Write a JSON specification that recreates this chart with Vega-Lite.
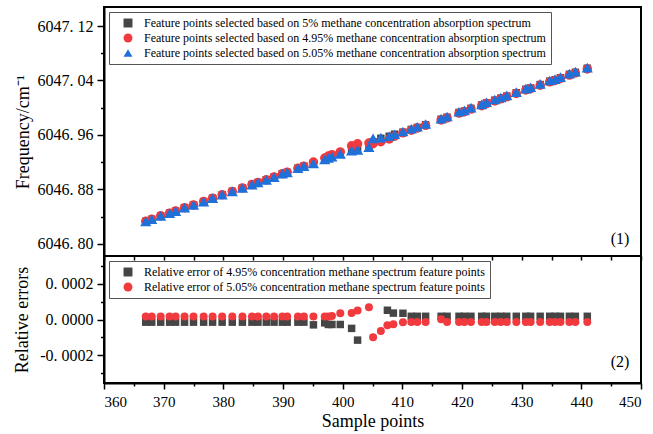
{
  "$schema": "https://vega.github.io/schema/vega-lite/v6.json",
  "background": "white",
  "padding": {"left": 12, "top": 6, "right": 12, "bottom": 0},
  "config": {
    "font": "Liberation Serif",
    "view": {"stroke": "black", "strokeWidth": 2},
    "axis": {"domainColor": "black", "domainWidth": 2, "tickColor": "black", "tickWidth": 1.5, "labelColor": "black", "labelFont": "Liberation Serif", "titleFont": "Liberation Serif", "titleColor": "black", "titleFontWeight": "normal", "grid": false, "labelFontSize": 15, "titleFontSize": 18, "labelOverlap": false, "tickCount": 60},
    "legend": {"orient": "top-left", "offset": 5, "strokeColor": "#555555", "strokeWidth": 1, "padding": 5, "labelFont": "Liberation Serif", "labelFontSize": 12, "labelColor": "black", "labelLimit": 600, "symbolSize": 80, "symbolOffset": 8, "labelOffset": 10, "rowPadding": 3, "symbolStrokeWidth": 0, "fillColor": "white", "title": null},
    "concat": {"spacing": 0}
  },
  "datasets": {
    "top": [
      {"x": 367, "f5": 6046.833, "f495": 6046.833, "f505": 6046.833},
      {"x": 368, "f5": 6046.836, "f495": 6046.836, "f505": 6046.836},
      {"x": 369.5, "f5": 6046.841, "f495": 6046.841, "f505": 6046.841},
      {"x": 371, "f5": 6046.845, "f495": 6046.845, "f505": 6046.845},
      {"x": 372, "f5": 6046.848, "f495": 6046.848, "f505": 6046.848},
      {"x": 373.5, "f5": 6046.853, "f495": 6046.853, "f505": 6046.853},
      {"x": 375, "f5": 6046.857, "f495": 6046.857, "f505": 6046.857},
      {"x": 376.7, "f5": 6046.862, "f495": 6046.862, "f505": 6046.862},
      {"x": 378.2, "f5": 6046.867, "f495": 6046.867, "f505": 6046.867},
      {"x": 379.8, "f5": 6046.872, "f495": 6046.872, "f505": 6046.872},
      {"x": 381.5, "f5": 6046.877, "f495": 6046.877, "f505": 6046.877},
      {"x": 383.2, "f5": 6046.882, "f495": 6046.882, "f505": 6046.882},
      {"x": 384.8, "f5": 6046.887, "f495": 6046.887, "f505": 6046.887},
      {"x": 385.8, "f5": 6046.890, "f495": 6046.890, "f505": 6046.890},
      {"x": 387.2, "f5": 6046.894, "f495": 6046.894, "f505": 6046.894},
      {"x": 388.5, "f5": 6046.898, "f495": 6046.898, "f505": 6046.898},
      {"x": 389.9, "f5": 6046.903, "f495": 6046.903, "f505": 6046.903},
      {"x": 390.7, "f5": 6046.905, "f495": 6046.905, "f505": 6046.905},
      {"x": 392.5, "f5": 6046.911, "f495": 6046.911, "f505": 6046.911},
      {"x": 393.5, "f5": 6046.914, "f495": 6046.914, "f505": 6046.914},
      {"x": 395.1, "f5": 6046.918, "f495": 6046.920, "f505": 6046.918},
      {"x": 397, "f5": 6046.924, "f495": 6046.926, "f505": 6046.924},
      {"x": 397.6, "f5": 6046.926, "f495": 6046.929, "f505": 6046.926},
      {"x": 398.2, "f5": 6046.928, "f495": 6046.931, "f505": 6046.928},
      {"x": 399.6, "f5": 6046.932, "f495": 6046.935, "f505": 6046.932},
      {"x": 401.5, "f5": 6046.937, "f495": 6046.944, "f505": 6046.937},
      {"x": 402.5, "f5": 6046.938, "f495": 6046.947, "f505": 6046.938},
      {"x": 404.4, "f5": 6046.944, "f495": 6046.948, "f505": 6046.942},
      {"x": 405.1, "f5": 6046.950, "f495": 6046.947, "f505": 6046.955},
      {"x": 406.4, "f5": 6046.955, "f495": 6046.950, "f505": 6046.956},
      {"x": 407.8, "f5": 6046.958, "f495": 6046.954, "f505": 6046.958},
      {"x": 408.7, "f5": 6046.961, "f495": 6046.958, "f505": 6046.961},
      {"x": 410.1, "f5": 6046.964, "f495": 6046.963, "f505": 6046.965},
      {"x": 411.5, "f5": 6046.968, "f495": 6046.967, "f505": 6046.969},
      {"x": 412.5, "f5": 6046.971, "f495": 6046.970, "f505": 6046.972},
      {"x": 413.9, "f5": 6046.975, "f495": 6046.974, "f505": 6046.976},
      {"x": 416.5, "f5": 6046.983, "f495": 6046.982, "f505": 6046.984},
      {"x": 417.5, "f5": 6046.986, "f495": 6046.985, "f505": 6046.987},
      {"x": 419.5, "f5": 6046.993, "f495": 6046.992, "f505": 6046.994},
      {"x": 420.4, "f5": 6046.995, "f495": 6046.994, "f505": 6046.996},
      {"x": 421.5, "f5": 6046.999, "f495": 6046.998, "f505": 6047.000},
      {"x": 423.3, "f5": 6047.004, "f495": 6047.003, "f505": 6047.005},
      {"x": 424.1, "f5": 6047.007, "f495": 6047.006, "f505": 6047.008},
      {"x": 425.5, "f5": 6047.011, "f495": 6047.010, "f505": 6047.012},
      {"x": 426.5, "f5": 6047.014, "f495": 6047.013, "f505": 6047.015},
      {"x": 427.5, "f5": 6047.017, "f495": 6047.016, "f505": 6047.018},
      {"x": 429.1, "f5": 6047.022, "f495": 6047.021, "f505": 6047.023},
      {"x": 430.7, "f5": 6047.027, "f495": 6047.026, "f505": 6047.028},
      {"x": 431.5, "f5": 6047.029, "f495": 6047.028, "f505": 6047.030},
      {"x": 433.1, "f5": 6047.034, "f495": 6047.033, "f505": 6047.035},
      {"x": 434.7, "f5": 6047.039, "f495": 6047.038, "f505": 6047.040},
      {"x": 435.6, "f5": 6047.041, "f495": 6047.040, "f505": 6047.042},
      {"x": 436.5, "f5": 6047.044, "f495": 6047.043, "f505": 6047.045},
      {"x": 438, "f5": 6047.049, "f495": 6047.048, "f505": 6047.050},
      {"x": 439, "f5": 6047.052, "f495": 6047.051, "f505": 6047.053},
      {"x": 441, "f5": 6047.058, "f495": 6047.057, "f505": 6047.059}
    ],
    "bot": [
      {"x": 367, "e495": -0.000015, "e505": 0.000017},
      {"x": 368, "e495": -0.000015, "e505": 0.000017},
      {"x": 369.5, "e495": -0.000015, "e505": 0.000017},
      {"x": 371, "e495": -0.000015, "e505": 0.000017},
      {"x": 372, "e495": -0.000015, "e505": 0.000017},
      {"x": 373.5, "e495": -0.000015, "e505": 0.000017},
      {"x": 375, "e495": -0.000015, "e505": 0.000017},
      {"x": 376.7, "e495": -0.000015, "e505": 0.000017},
      {"x": 378.2, "e495": -0.000015, "e505": 0.000017},
      {"x": 379.8, "e495": -0.000015, "e505": 0.000017},
      {"x": 381.5, "e495": -0.000015, "e505": 0.000017},
      {"x": 383.2, "e495": -0.000015, "e505": 0.000017},
      {"x": 384.8, "e495": -0.000015, "e505": 0.000017},
      {"x": 385.8, "e495": -0.000015, "e505": 0.000017},
      {"x": 387.2, "e495": -0.000015, "e505": 0.000017},
      {"x": 388.5, "e495": -0.000015, "e505": 0.000017},
      {"x": 389.9, "e495": -0.000015, "e505": 0.000017},
      {"x": 390.7, "e495": -0.000015, "e505": 0.000017},
      {"x": 392.5, "e495": -0.000015, "e505": 0.000017},
      {"x": 393.5, "e495": -0.000015, "e505": 0.000017},
      {"x": 395.1, "e495": -0.000030, "e505": 0.000017},
      {"x": 397, "e495": -0.000019, "e505": 0.000017},
      {"x": 397.6, "e495": -0.000028, "e505": 0.000017},
      {"x": 398.2, "e495": -0.000028, "e505": 0.000019},
      {"x": 399.6, "e495": -0.000028, "e505": 0.000035},
      {"x": 401.5, "e495": -0.000050, "e505": 0.000037},
      {"x": 402.5, "e495": -0.000116, "e505": 0.000050},
      {"x": 404.4, "e495": null, "e505": 0.000069},
      {"x": 405.1, "e495": null, "e505": -0.000100},
      {"x": 406.4, "e495": null, "e505": -0.000065},
      {"x": 407.5, "e495": 0.000052, "e505": -0.000032},
      {"x": 408.5, "e495": 0.000036, "e505": -0.000027},
      {"x": 410.1, "e495": 0.000035, "e505": -0.000015},
      {"x": 411.5, "e495": 0.000018, "e505": -0.000014},
      {"x": 412.5, "e495": 0.000018, "e505": -0.000014},
      {"x": 413.9, "e495": 0.000018, "e505": -0.000014},
      {"x": 416.5, "e495": 0.000018, "e505": 0.000002},
      {"x": 417.5, "e495": 0.000018, "e505": -0.000014},
      {"x": 419.5, "e495": 0.000018, "e505": -0.000014},
      {"x": 420.4, "e495": 0.000018, "e505": -0.000014},
      {"x": 421.5, "e495": 0.000018, "e505": -0.000014},
      {"x": 423.3, "e495": 0.000018, "e505": -0.000014},
      {"x": 424.1, "e495": 0.000018, "e505": -0.000014},
      {"x": 425.5, "e495": 0.000018, "e505": -0.000014},
      {"x": 426.5, "e495": 0.000018, "e505": -0.000014},
      {"x": 427.5, "e495": 0.000018, "e505": -0.000014},
      {"x": 429.1, "e495": 0.000018, "e505": -0.000014},
      {"x": 430.7, "e495": 0.000018, "e505": -0.000014},
      {"x": 431.5, "e495": 0.000018, "e505": -0.000014},
      {"x": 433.1, "e495": 0.000018, "e505": -0.000014},
      {"x": 434.7, "e495": 0.000018, "e505": -0.000014},
      {"x": 435.6, "e495": 0.000018, "e505": -0.000014},
      {"x": 436.5, "e495": 0.000018, "e505": -0.000014},
      {"x": 438, "e495": 0.000018, "e505": -0.000014},
      {"x": 439, "e495": 0.000018, "e505": -0.000014},
      {"x": 441, "e495": 0.000018, "e505": -0.000014}
    ]
  },
  "bounds": "flush",
  "resolve": {"scale": {"color": "independent", "shape": "independent"}, "legend": {"color": "independent", "shape": "independent"}},
  "vconcat": [
    {
      "width": 537,
      "height": 249,
      "data": {"name": "top"},
      "encoding": {
        "x": {"field": "x", "type": "quantitative", "scale": {"domain": [360, 450], "nice": false, "zero": false},
          "axis": {"orient": "bottom", "labels": false, "title": null, "domain": false, "tickSize": 4, "minExtent": 0, "maxExtent": 0, "tickCount": 60,
            "values": [360, 365, 370, 375, 380, 385, 390, 395, 400, 405, 410, 415, 420, 425, 430, 435, 440, 445, 450]}}
      },
      "layer": [
        {
          "mark": {"type": "point", "filled": true, "opacity": 1, "size": 56},
          "encoding": {
            "y": {"field": "f5", "type": "quantitative", "scale": {"domain": [6046.782, 6047.148], "nice": false, "zero": false},
              "axis": {"title": "Frequency/cm⁻¹", "tickCount": 60, "values": [6046.80, 6046.84, 6046.88, 6046.92, 6046.96, 6047.00, 6047.04, 6047.08, 6047.12],
                "labelFontSize": 16, "labelPadding": 4, "titlePadding": 5,
                "labelExpr": "round((datum.value-6046.8)/0.04) % 2 == 0 ? replace(format(datum.value, '.2f'), '.', '. ') : ''",
                "tickSize": {"condition": {"test": "round((datum.value-6046.8)/0.04) % 2 == 0", "value": 7}, "value": 3.5}}},
            "color": {"datum": "Feature points selected based on 5% methane concentration absorption spectrum", "type": "nominal",
              "scale": {"domain": ["Feature points selected based on 5% methane concentration absorption spectrum", "Feature points selected based on 4.95% methane concentration absorption spectrum", "Feature points selected based on 5.05% methane concentration absorption spectrum"], "range": ["#454545", "#f03a3e", "#2070da"]},
              "legend": {"title": null}},
            "shape": {"datum": "Feature points selected based on 5% methane concentration absorption spectrum", "type": "nominal",
              "scale": {"domain": ["Feature points selected based on 5% methane concentration absorption spectrum", "Feature points selected based on 4.95% methane concentration absorption spectrum", "Feature points selected based on 5.05% methane concentration absorption spectrum"], "range": ["square", "circle", "triangle-up"]},
              "legend": {"title": null}}
          }
        },
        {
          "mark": {"type": "point", "filled": true, "opacity": 1, "size": 90},
          "encoding": {
            "y": {"field": "f495", "type": "quantitative"},
            "color": {"datum": "Feature points selected based on 4.95% methane concentration absorption spectrum", "type": "nominal"},
            "shape": {"datum": "Feature points selected based on 4.95% methane concentration absorption spectrum", "type": "nominal"}
          }
        },
        {
          "mark": {"type": "point", "filled": true, "opacity": 1, "size": 125},
          "encoding": {
            "y": {"field": "f505", "type": "quantitative"},
            "color": {"datum": "Feature points selected based on 5.05% methane concentration absorption spectrum", "type": "nominal"},
            "shape": {"datum": "Feature points selected based on 5.05% methane concentration absorption spectrum", "type": "nominal"}
          }
        },
        {
          "data": {"values": [{"lx": 446.5, "ly": 6046.807, "t": "(1)"}]},
          "mark": {"type": "text", "font": "Liberation Serif", "fontSize": 16, "color": "black", "align": "center", "baseline": "middle"},
          "encoding": {
            "x": {"field": "lx", "type": "quantitative"},
            "y": {"field": "ly", "type": "quantitative"},
            "text": {"field": "t"}
          }
        }
      ]
    },
    {
      "width": 537,
      "height": 127,
      "data": {"name": "bot"},
      "encoding": {
        "x": {"field": "x", "type": "quantitative", "scale": {"domain": [360, 450], "nice": false, "zero": false},
          "axis": {"title": "Sample points", "tickCount": 60, "values": [360, 365, 370, 375, 380, 385, 390, 395, 400, 405, 410, 415, 420, 425, 430, 435, 440, 445, 450],
            "labelExpr": "datum.value % 10 == 0 ? datum.label : ''",
            "tickSize": {"condition": {"test": "datum.value % 10 == 0", "value": 6}, "value": 3}, "labelPadding": 5, "titlePadding": 3}}
      },
      "layer": [
        {
          "mark": {"type": "point", "filled": true, "opacity": 1, "size": 56},
          "encoding": {
            "y": {"field": "e495", "type": "quantitative", "scale": {"domain": [-0.000357, 0.000357], "nice": false, "zero": false},
              "axis": {"title": "Relative errors", "tickCount": 60, "values": [-0.0003, -0.0002, -0.0001, 0, 0.0001, 0.0002, 0.0003],
                "labelFontSize": 16, "labelPadding": 4, "titlePadding": 8,
                "labelExpr": "(datum.value > 0.00015 && datum.value < 0.00025) || (datum.value < -0.00015 && datum.value > -0.00025) || (datum.value > -0.00005 && datum.value < 0.00005) ? replace(replace(format(datum.value, '.4f'), '.', '. '), '−', '-') : ''",
                "tickSize": {"condition": {"test": "(datum.value > 0.00015 && datum.value < 0.00025) || (datum.value < -0.00015 && datum.value > -0.00025) || (datum.value > -0.00005 && datum.value < 0.00005)", "value": 7}, "value": 3.5}}},
            "color": {"datum": "Relative error of 4.95% concentration methane spectrum feature points", "type": "nominal",
              "scale": {"domain": ["Relative error of 4.95% concentration methane spectrum feature points", "Relative error of 5.05% concentration methane spectrum feature points"], "range": ["#454545", "#f03a3e"]},
              "legend": {"title": null}},
            "shape": {"datum": "Relative error of 4.95% concentration methane spectrum feature points", "type": "nominal",
              "scale": {"domain": ["Relative error of 4.95% concentration methane spectrum feature points", "Relative error of 5.05% concentration methane spectrum feature points"], "range": ["square", "circle"]},
              "legend": {"title": null}}
          }
        },
        {
          "mark": {"type": "point", "filled": true, "opacity": 1, "size": 64},
          "encoding": {
            "y": {"field": "e505", "type": "quantitative"},
            "color": {"datum": "Relative error of 5.05% concentration methane spectrum feature points", "type": "nominal"},
            "shape": {"datum": "Relative error of 5.05% concentration methane spectrum feature points", "type": "nominal"}
          }
        },
        {
          "data": {"values": [{"lx": 446.5, "ly": -0.00024, "t": "(2)"}]},
          "mark": {"type": "text", "font": "Liberation Serif", "fontSize": 16, "color": "black", "align": "center", "baseline": "middle"},
          "encoding": {
            "x": {"field": "lx", "type": "quantitative"},
            "y": {"field": "ly", "type": "quantitative"},
            "text": {"field": "t"}
          }
        }
      ]
    }
  ]
}
